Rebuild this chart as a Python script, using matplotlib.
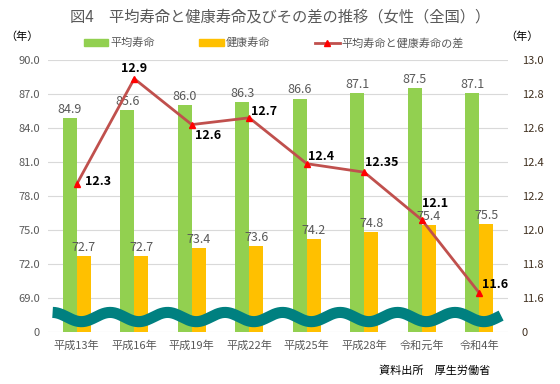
'''
Women's average life expectancy vs healthy life expectancy, with the gap
'''
import numpy as np
import matplotlib
matplotlib.use('Agg')
import matplotlib.pyplot as plt
from matplotlib.lines import Line2D
from matplotlib.patches import Patch

plt.rcParams['font.family'] = ['Noto Sans CJK JP', 'DejaVu Sans']

#Data
years = ['平成13年', '平成16年', '平成19年', '平成22年',
         '平成25年', '平成28年', '令和元年', '令和4年']

avg_life = [84.9, 85.6, 86.0, 86.3, 86.6, 87.1, 87.5, 87.1]

healthy_life = [72.7, 72.7, 73.4, 73.6, 74.2, 74.8, 75.4, 75.5]

gap = [12.27, 12.89, 12.62, 12.66, 12.39, 12.34, 12.06, 11.63]

gap_labels = ['12.3', '12.9', '12.6', '12.7', '12.4', '12.35', '12.1', '11.6']

#label offsets in pixels (dx, dy) and alignment for each gap label
gap_offsets = [(8, 3, 'left'), (0, 10, 'center'), (3, -11, 'left'), (2, 6, 'left'),
               (1, 7, 'left'), (1, 10, 'left'), (0, 16, 'left'), (3, 8, 'left')]

left_ticks = [66, 69, 72, 75, 78, 81, 84, 87, 90]
right_ticks = [11.4, 11.6, 11.8, 12.0, 12.2, 12.4, 12.6, 12.8, 13.0]

green = '#92D050'
orange = '#FFC000'
line_col = '#C0504D'
gray = '#595959'

fig = plt.figure(figsize=(5.6, 3.84), dpi=100)

ax = fig.add_axes([48 / 560, 52 / 384, 460 / 560, 272 / 384])

x = np.arange(len(years))

w = 0.243

ax.bar(x - w / 2, avg_life, w, color=green, zorder=2)
ax.bar(x + w / 2, healthy_life, w, color=orange, zorder=2)

for i in range(len(years)):
    ax.annotate(f'{avg_life[i]:.1f}', (x[i] - w / 2, avg_life[i]),
                xytext=(0, 1.5), textcoords='offset points',
                ha='center', va='bottom', fontsize=9, color=gray)
    ax.annotate(f'{healthy_life[i]:.1f}', (x[i] + w / 2, healthy_life[i]),
                xytext=(0, 1.5), textcoords='offset points',
                ha='center', va='bottom', fontsize=9, color=gray)

ax.set_xlim(-0.5, len(years) - 0.5)
ax.set_ylim(66, 90)
ax.set_yticks(left_ticks)
ax.set_yticklabels(['0'] + [f'{t:.1f}' for t in left_ticks[1:]])
ax.set_xticks(x)
ax.set_xticklabels(years)
ax.tick_params(axis='both', length=0, labelsize=8, colors=gray)
ax.tick_params(axis='x', pad=6)
ax.tick_params(axis='y', pad=6)
ax.grid(axis='y', color='#D9D9D9', linewidth=0.8, zorder=0)
for s in ax.spines.values():
    s.set_visible(False)

#Right axis for the gap line
ax2 = ax.twinx()
ax2.set_ylim(11.4, 13.0)
ax2.set_yticks(right_ticks)
ax2.set_yticklabels(['0'] + [f'{t:.1f}' for t in right_ticks[1:]])
ax2.tick_params(axis='y', length=0, labelsize=8, colors='#403020', pad=10)
for s in ax2.spines.values():
    s.set_visible(False)

ax2.plot(x, gap, color=line_col, linewidth=2, zorder=3)
ax2.plot(x, gap, linestyle='none', marker='^', markersize=5,
         color='#FF0000', zorder=4)

for i in range(len(years)):
    dx, dy, ha = gap_offsets[i]
    ax2.annotate(gap_labels[i], (x[i], gap[i]),
                 xytext=(dx * 0.72, dy * 0.72), textcoords='offset points',
                 ha=ha, va='center', fontsize=9, fontweight='bold', color='black')

#Wavy axis-break band
wx = np.linspace(0.01, 0.985, 400)
wy = 0.055 + 0.017 * np.sin(2 * np.pi * (wx - 0.01) * 8 + np.pi / 2)
ax2.plot(wx, wy, transform=ax.transAxes, color='#008080',
         linewidth=8, solid_capstyle='butt', zorder=5, clip_on=False)

fig.text(0.5, 1 - 17 / 384, '図4　平均寿命と健康寿命及びその差の推移（女性（全国））',
         ha='center', va='center', fontsize=11, color=gray)
fig.text(22 / 560, 1 - 37 / 384, '（年）', ha='center', va='center',
         fontsize=8, color='black')
fig.text(522 / 560, 1 - 37 / 384, '（年）', ha='center', va='center',
         fontsize=8, color='black')

handles = [Patch(color=green), Patch(color=orange),
           Line2D([], [], color=line_col, linewidth=2, marker='^',
                  markerfacecolor='#FF0000', markeredgecolor='#FF0000', markersize=5)]
labels = ['平均寿命', '健康寿命', '平均寿命と健康寿命の差']
fig.legend(handles, labels, loc='center', bbox_to_anchor=(274 / 560, 1 - 43 / 384),
           ncol=3, frameon=False, fontsize=8, handlelength=2.2, handleheight=0.6,
           columnspacing=4.0, handletextpad=0.2, labelcolor=gray)

fig.text(435 / 560, 1 - 371 / 384, '資料出所　厚生労働省', ha='center', va='center',
         fontsize=8, color='black')

fig.savefig('out.png', dpi=100)
